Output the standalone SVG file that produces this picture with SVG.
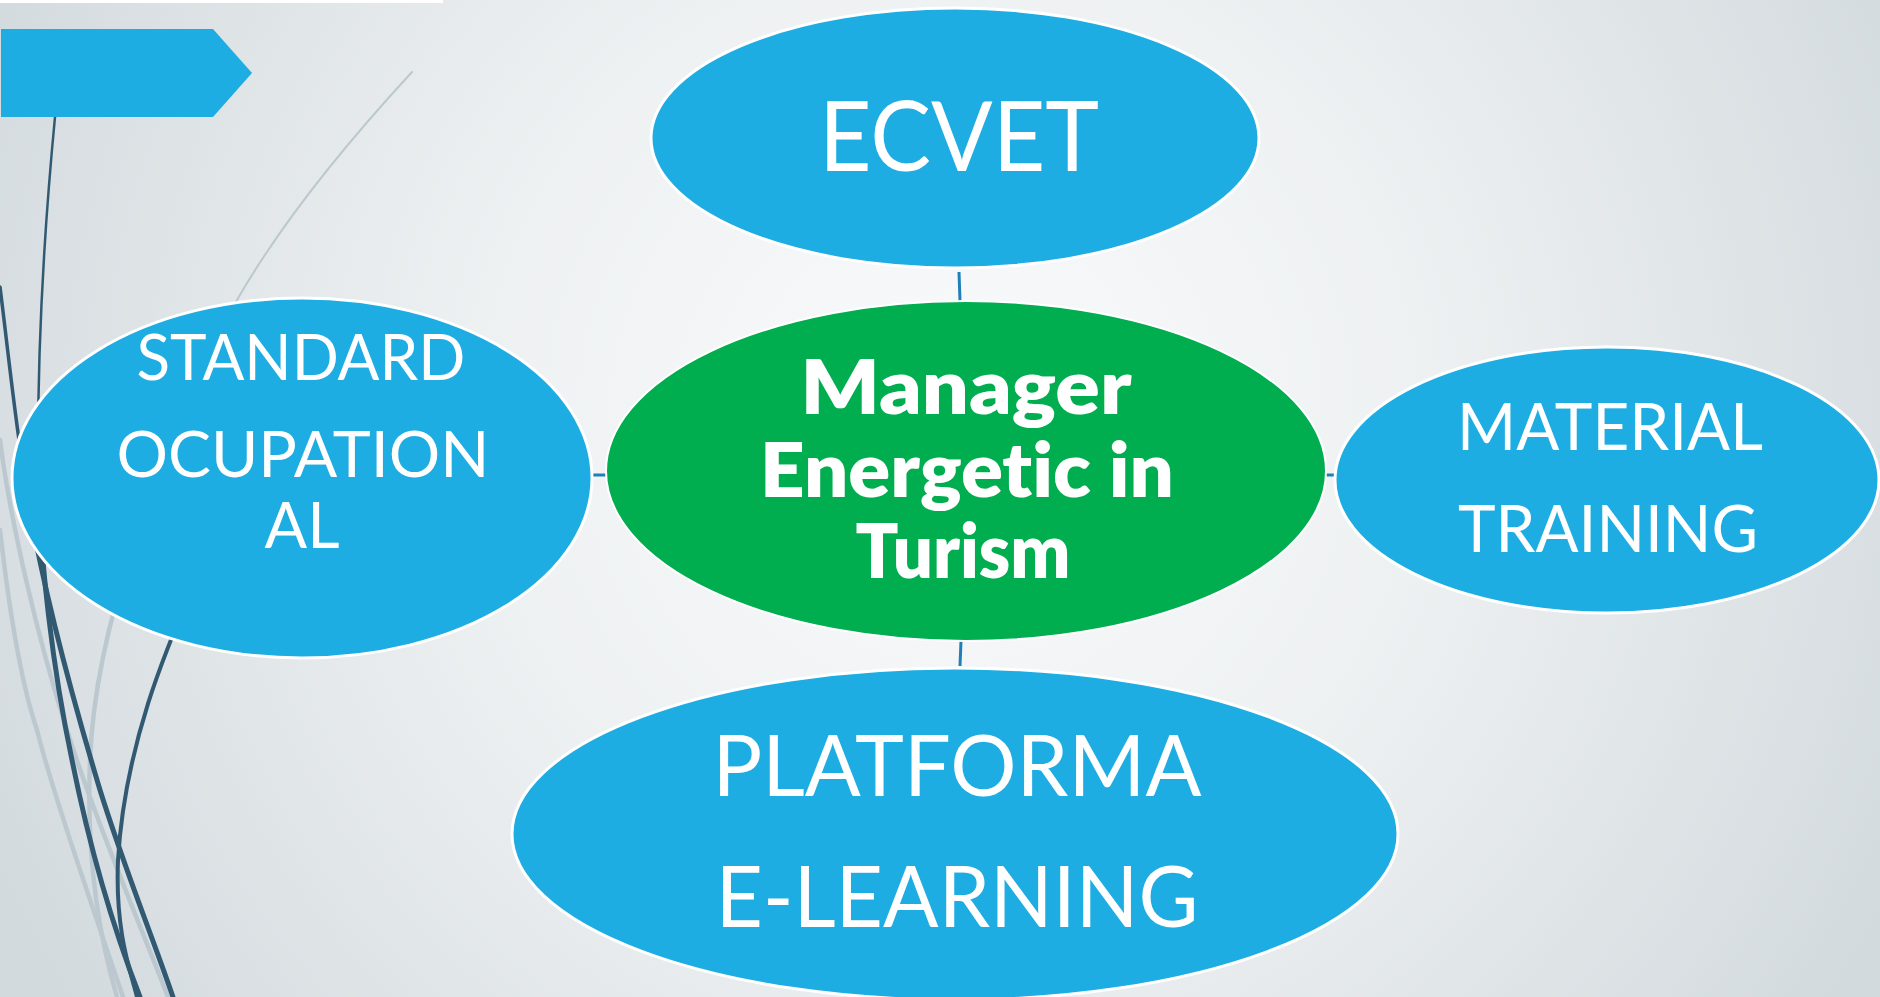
<svg xmlns="http://www.w3.org/2000/svg" width="1880" height="997" viewBox="0 0 1880 997">
  <defs>
    <radialGradient id="bg" gradientUnits="userSpaceOnUse" cx="950" cy="420" r="1050">
      <stop offset="0" stop-color="#f9fafb"/>
      <stop offset="0.45" stop-color="#eef1f2"/>
      <stop offset="1" stop-color="#d3dade"/>
    </radialGradient>
    <style>
      .blue { fill: #1eade2; stroke: #ffffff; stroke-width: 3; }
      .green { fill: #00ad4f; stroke: #ffffff; stroke-width: 2; }
      .lbl { fill: #ffffff; font-family: "Lato", "Liberation Sans", sans-serif; font-weight: 400; text-anchor: middle; font-variant-ligatures: none; }
      .bold { fill: #ffffff; font-family: "Lato", "Liberation Sans", sans-serif; font-weight: 800; text-anchor: middle; font-size: 75px; font-variant-ligatures: none; }
      .conn { stroke: #1f7fb7; stroke-width: 3; fill: none; }
      .dark { stroke: #315a72; fill: none; stroke-linecap: round; }
      .light { stroke: #bcc8cf; fill: none; stroke-linecap: round; }
    </style>
  </defs>

  <g id="background">
    <rect x="0" y="0" width="1880" height="997" fill="url(#bg)"/>
    <rect x="0" y="0" width="443" height="3" fill="#ffffff"/>
    <path class="light" stroke-width="2" d="M412,72 C340,150 280,225 237,300 C210,345 190,380 180,400"/>
    <path class="light" stroke-width="4.5" d="M135,540 C115,600 93,680 90,760 C86,860 100,940 117,997"/>
    <path class="light" stroke-width="4.5" d="M0,440 C10,520 38,640 67,730 C92,810 130,900 168,997"/>
    <path class="light" stroke-width="4.5" d="M0,530 C8,600 20,680 37,730 C52,790 90,900 123,997"/>
    <path class="dark" stroke-width="2.5" d="M55,117 C47,200 38,320 38,450"/>
    <path class="dark" stroke-width="5" d="M38,450 C38,560 55,680 72,760 C90,850 112,925 140,997"/>
    <path class="dark" stroke-width="3.5" d="M0,287 C8,350 15,420 25,480"/>
    <path class="dark" stroke-width="5" d="M25,480 C40,580 70,690 100,790 C125,870 150,930 173,997"/>
    <path class="dark" stroke-width="4" d="M200,570 C170,640 125,740 118,860 C115,930 130,970 137,997"/>
    <polygon points="1,29 213,29 252,73 213,117 1,117" fill="#1eade2"/>
  </g>

  <g id="connectors">
    <line class="conn" x1="959" y1="272" x2="960" y2="301"/>
    <line class="conn" x1="961" y1="641" x2="960" y2="666"/>
    <line class="conn" x1="592" y1="475" x2="607" y2="475"/>
    <line class="conn" x1="1325" y1="475" x2="1334" y2="475"/>
  </g>

  <g id="node-ecvet">
    <ellipse class="blue" cx="955" cy="138" rx="304" ry="130"/>
    <text class="lbl" x="959" y="171" font-size="96" textLength="280" lengthAdjust="spacingAndGlyphs">ECVET</text>
  </g>

  <g id="node-standard">
    <ellipse class="blue" cx="302" cy="478" rx="290" ry="180"/>
    <text class="lbl" x="301" y="380" font-size="63" textLength="329" lengthAdjust="spacingAndGlyphs">STANDARD</text>
    <text class="lbl" x="303" y="477" font-size="63" textLength="373" lengthAdjust="spacingAndGlyphs">OCUPATION</text>
    <text class="lbl" x="302" y="548" font-size="63" textLength="75" lengthAdjust="spacingAndGlyphs">AL</text>
  </g>

  <g id="node-material">
    <ellipse class="blue" cx="1607" cy="480" rx="272" ry="133"/>
    <text class="lbl" x="1610" y="450" font-size="66" textLength="306" lengthAdjust="spacingAndGlyphs">MATERIAL</text>
    <text class="lbl" x="1608" y="552" font-size="66" textLength="300" lengthAdjust="spacingAndGlyphs">TRAINING</text>
  </g>

  <g id="node-platforma">
    <ellipse class="blue" cx="955" cy="834" rx="443" ry="166"/>
    <text class="lbl" x="957" y="796" font-size="85" textLength="489" lengthAdjust="spacingAndGlyphs">PLATFORMA</text>
    <text class="lbl" x="957" y="927" font-size="85" textLength="483" lengthAdjust="spacingAndGlyphs">E-LEARNING</text>
  </g>

  <g id="node-center">
    <ellipse class="green" cx="966" cy="471" rx="360" ry="170"/>
    <text class="bold" x="966" y="414" textLength="331" lengthAdjust="spacingAndGlyphs">Manager</text>
    <text class="bold" x="967" y="497" textLength="414" lengthAdjust="spacingAndGlyphs">Energetic in</text>
    <text class="bold" x="963" y="578" textLength="215" lengthAdjust="spacingAndGlyphs">Turism</text>
  </g>
</svg>
